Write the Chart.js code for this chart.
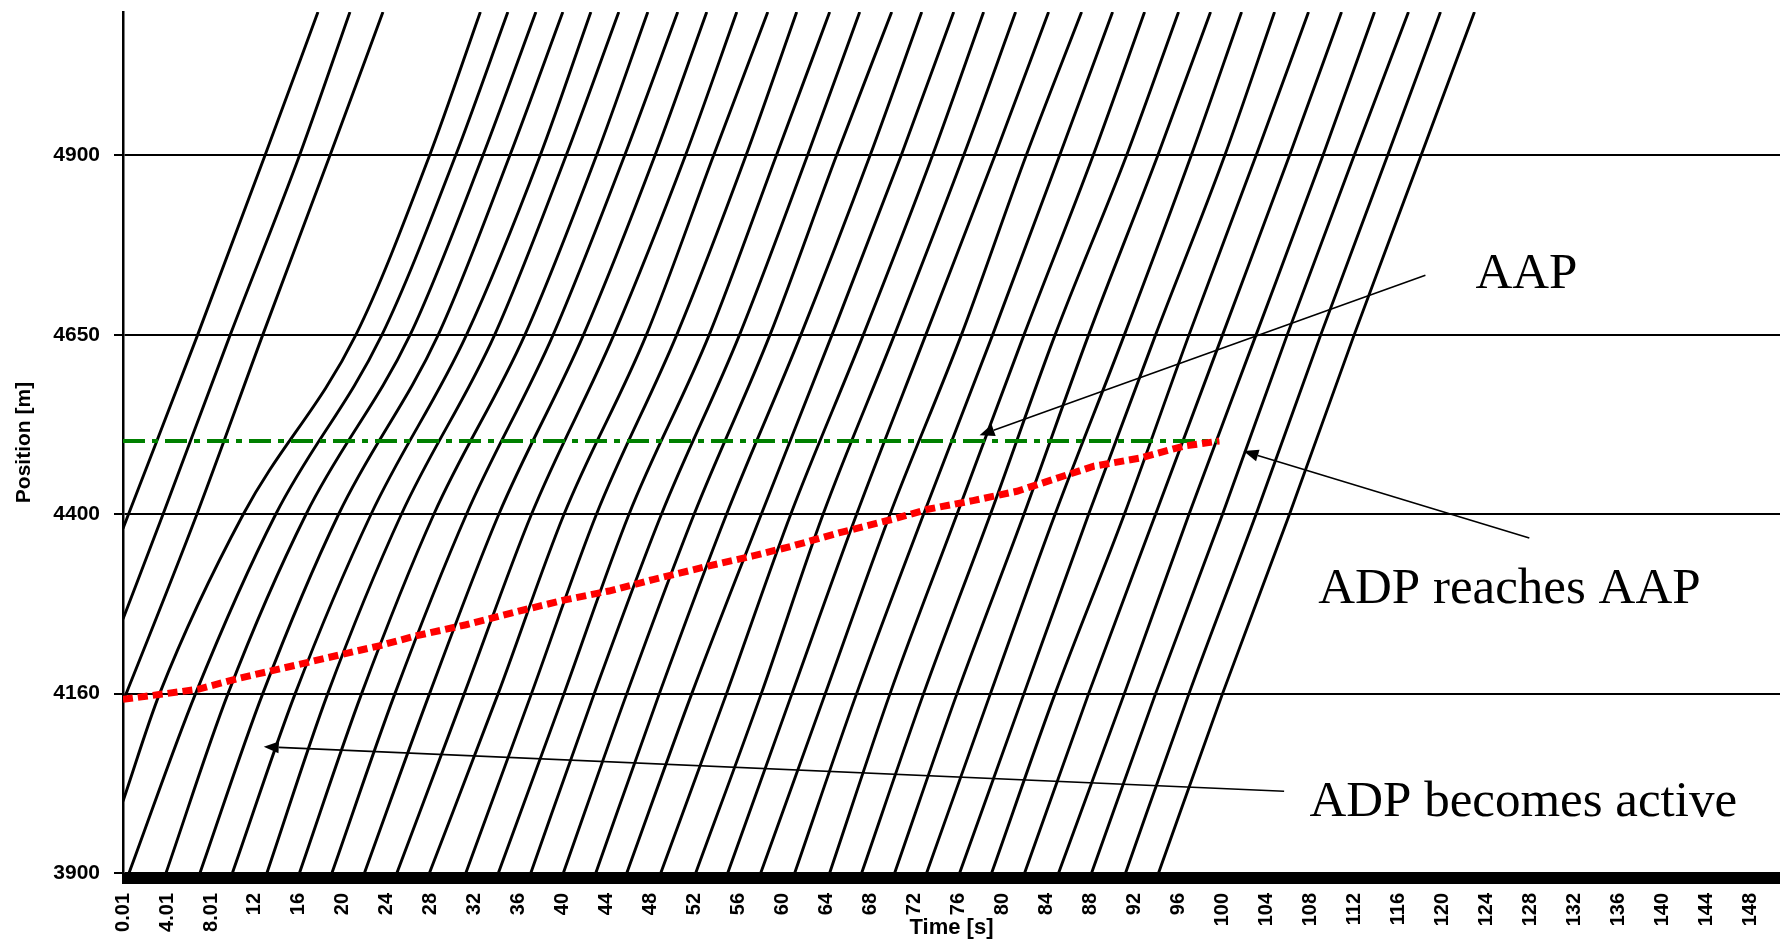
<!DOCTYPE html>
<html>
<head>
<meta charset="utf-8">
<script src="https://cdn.jsdelivr.net/npm/chart.js@4.4.1/dist/chart.umd.min.js"></script>
<style>
  html, body { margin: 0; padding: 0; background: #ffffff; }
  #chart { display: block; }
</style>
</head>
<body>
<canvas id="chart" width="1785" height="943"></canvas>
<script>
// position levels (m) where each trajectory was read; 5100 is the top of the plot
const levels = [3900, 4150, 4400, 4650, 4900, 5100];

// vehicles already on the road at t = 0 (first four trajectories)
const startPositions = [4380, 4254, 4139, 4000];

// time (s) at which every vehicle passes each level, null = not passed inside the plot
const t3900 = [null, null, null, null, 0.55, 3.91, 7.0, 9.95, 13.09, 16.05, 19.0, 21.96, 24.91, 27.87, 31.18, 34.14, 37.09, 40.05, 43.0, 45.82, 48.91, 52.09, 55.0, 58.0, 61.09, 64.27, 67.18, 70.18, 73.09, 76.09, 79.0, 82.0, 85.09, 88.09, 91.18, 94.18];
const t4150 = [null, null, 0.29, 3.33, 6.6, 9.55, 12.71, 15.66, 18.62, 21.7, 24.73, 27.88, 31.04, 34.12, 37.15, 40.11, 42.86, 45.82, 48.78, 51.73, 54.89, 58.05, 60.84, 63.87, 66.72, 69.76, 72.81, 75.85, 78.89, 81.94, 84.77, 87.82, 91.07, 93.91, 96.95, 100.0];
const t4400 = [0.5, 3.64, 6.72, 10.94, 13.89, 16.65, 19.61, 22.56, 25.32, 28.27, 31.24, 34.18, 37.15, 40.11, 43.06, 46.02, 48.97, 51.94, 54.89, 58.05, 60.73, 63.67, 66.72, 69.76, 72.81, 75.85, 78.89, 81.94, 84.77, 87.82, 91.07, 93.91, 96.95, 100.0, 103.05, 106.09];
const t4650 = [6.79, 9.75, 12.71, 21.18, 23.55, 26.11, 28.67, 31.24, 33.8, 36.55, 39.12, 41.88, 44.64, 47.6, 50.36, 53.31, 56.07, 58.84, 61.65, 64.48, 67.33, 70.16, 73.01, 76.25, 79.09, 81.94, 84.77, 87.82, 91.07, 93.91, 96.95, 100.0, 103.05, 105.88, 108.93, 111.97];
const t4900 = [12.91, 16.05, 18.82, 27.88, 30.25, 32.73, 35.18, 37.94, 40.3, 43.06, 45.62, 48.38, 51.15, 53.71, 56.66, 59.42, 62.25, 64.89, 67.94, 70.77, 73.62, 76.45, 79.3, 82.14, 85.18, 88.23, 91.27, 94.11, 97.15, 100.2, 103.05, 106.09, 109.13, 111.97, 115.01, 118.05];
const t5100 = [17.73, 20.64, 23.64, 32.5, 35.0, 37.55, 40.0, 42.55, 45.09, 47.73, 50.45, 53.09, 55.82, 58.64, 61.27, 64.27, 67.0, 69.91, 72.64, 75.55, 78.27, 81.18, 84.18, 87.18, 90.0, 92.91, 96.0, 98.91, 101.73, 104.73, 107.82, 110.82, 113.82, 116.91, 119.82, 122.91];

// ADP (red) and AAP (green)
const adpTime = [0, 6.8, 10.7, 14.7, 18.6, 23.4, 26.5, 31.2, 36.0, 40.3, 44.2, 48.2, 53.3, 57.3, 60.7, 65.1, 70.0, 73.2, 77.3, 81.3, 88.3, 92.4, 96.5, 99.7];
const adpPos = [4142, 4156, 4172, 4186, 4200, 4217, 4230, 4246, 4265, 4281, 4293, 4309, 4328, 4342, 4355, 4374, 4393, 4407, 4419, 4432, 4467, 4478, 4495, 4502];
const aapTime = [0, 99.7];
const aapPos = [4502, 4502];

// axis ticks
const yTickValues = [3900, 4150, 4400, 4650, 4900];
const yTickLabels = ['3900', '4160', '4400', '4650', '4900'];
const xTickValues = [0.01, 4.01, 8.01, 12, 16, 20, 24, 28, 32, 36, 40, 44, 48, 52, 56, 60, 64, 68, 72, 76, 80, 84, 88, 92, 96, 100, 104, 108, 112, 116, 120, 124, 128, 132, 136, 140, 144, 148];

// annotations, in chart coordinates (time, position)
const notes = [
    { text: 'AAP', t: 123.0, pos: 4715 },
    { text: 'ADP reaches AAP', t: 108.7, pos: 4276 },
    { text: 'ADP becomes active', t: 107.9, pos: 3979 }
];
const arrows = [
    { from: [118.45, 4733], to: [77.9, 4510] },
    { from: [127.9, 4367], to: [101.9, 4488] },
    { from: [105.6, 4014], to: [12.8, 4076] }
];

function buildTrajectories() {
    const crossings = [t3900, t4150, t4400, t4650, t4900, t5100];
    const sets = [];
    for (let i = 0; i < t5100.length; i++) {
        const pts = [];
        if (i < startPositions.length) pts.push({ x: 0, y: startPositions[i] });
        crossings.forEach((row, k) => {
            if (row[i] !== null) pts.push({ x: row[i], y: levels[k] });
        });
        sets.push({
            data: pts,
            borderColor: '#000000',
            borderWidth: 2.9,
            pointRadius: 0,
            cubicInterpolationMode: 'monotone',
            fill: false
        });
    }
    return sets;
}

const decorations = {
    id: 'decorations',
    afterDraw(chart) {
        const ctx = chart.ctx;
        const xs = chart.scales.x;
        const ys = chart.scales.y;

        // thick time axis bar
        ctx.save();
        ctx.fillStyle = '#000000';
        ctx.fillRect(xs.left - 1, xs.top, xs.right - xs.left + 1, 11);

        // arrows
        ctx.strokeStyle = '#000000';
        ctx.lineWidth = 1.6;
        arrows.forEach(a => {
            const x1 = xs.getPixelForValue(a.from[0]), y1 = ys.getPixelForValue(a.from[1]);
            const x2 = xs.getPixelForValue(a.to[0]), y2 = ys.getPixelForValue(a.to[1]);
            const ang = Math.atan2(y2 - y1, x2 - x1);
            const len = 15, half = 6;
            ctx.beginPath();
            ctx.moveTo(x1, y1);
            ctx.lineTo(x2 - Math.cos(ang) * len, y2 - Math.sin(ang) * len);
            ctx.stroke();
            ctx.beginPath();
            ctx.moveTo(x2, y2);
            ctx.lineTo(x2 - Math.cos(ang) * len - Math.sin(ang) * half, y2 - Math.sin(ang) * len + Math.cos(ang) * half);
            ctx.lineTo(x2 - Math.cos(ang) * len + Math.sin(ang) * half, y2 - Math.sin(ang) * len - Math.cos(ang) * half);
            ctx.closePath();
            ctx.fill();
        });

        // annotation texts
        ctx.font = '51px "Liberation Serif", "Times New Roman", serif';
        ctx.textAlign = 'left';
        ctx.textBaseline = 'alphabetic';
        notes.forEach(n => {
            ctx.fillText(n.text, xs.getPixelForValue(n.t), ys.getPixelForValue(n.pos));
        });
        ctx.restore();
    }
};

const datasets = [
    {
        data: adpTime.map((t, i) => ({ x: t, y: adpPos[i] })),
        borderColor: '#ff0000',
        borderWidth: 7,
        borderDash: [10, 5],
        pointRadius: 0,
        tension: 0,
        fill: false
    },
    {
        data: aapTime.map((t, i) => ({ x: t, y: aapPos[i] })),
        borderColor: '#008000',
        borderWidth: 4,
        borderDash: [22, 7, 6, 7],
        pointRadius: 0,
        tension: 0,
        fill: false
    }
].concat(buildTrajectories());

new Chart(document.getElementById('chart').getContext('2d'), {
    type: 'line',
    data: { datasets: datasets },
    options: {
        responsive: false,
        animation: false,
        devicePixelRatio: 1,
        layout: { padding: { top: 12, right: 5, bottom: 0, left: 0 } },
        plugins: {
            legend: { display: false },
            tooltip: { enabled: false }
        },
        scales: {
            x: {
                type: 'linear',
                min: 0,
                max: 150.7,
                afterBuildTicks: scale => {
                    scale.ticks = xTickValues.map(v => ({ value: v }));
                },
                afterFit: scale => {
                    scale.height = 70;
                    scale.paddingLeft = 0;
                    scale.paddingRight = 0;
                },
                grid: { display: false, drawTicks: false },
                border: { display: false },
                ticks: {
                    autoSkip: false,
                    minRotation: 90,
                    maxRotation: 90,
                    padding: 20,
                    color: '#000000',
                    font: { family: '"Liberation Sans", Arial, sans-serif', size: 20, weight: 'bold' },
                    callback: value => String(value)
                },
                title: {
                    display: true,
                    text: 'Time [s]',
                    color: '#000000',
                    padding: { top: 0, bottom: 2 },
                    font: { family: '"Liberation Sans", Arial, sans-serif', size: 22, weight: 'bold' }
                }
            },
            y: {
                type: 'linear',
                min: 3900,
                max: 5100,
                afterBuildTicks: scale => {
                    scale.ticks = yTickValues.map(v => ({ value: v }));
                },
                afterFit: scale => {
                    scale.width = 123;
                    scale.paddingTop = 0;
                    scale.paddingBottom = 0;
                },
                grid: {
                    color: '#000000',
                    lineWidth: 2,
                    drawTicks: true,
                    tickLength: 9,
                    tickColor: '#000000'
                },
                border: { display: true, color: '#000000', width: 2.5 },
                ticks: {
                    padding: 14,
                    color: '#000000',
                    font: { family: '"Liberation Sans", Arial, sans-serif', size: 21, weight: 'bold' },
                    callback: (value, index) => yTickLabels[index]
                },
                title: {
                    display: true,
                    text: 'Position [m]',
                    color: '#000000',
                    padding: { top: 12, bottom: 0 },
                    font: { family: '"Liberation Sans", Arial, sans-serif', size: 21, weight: 'bold' }
                }
            }
        }
    },
    plugins: [decorations]
});
</script>
</body>
</html>
